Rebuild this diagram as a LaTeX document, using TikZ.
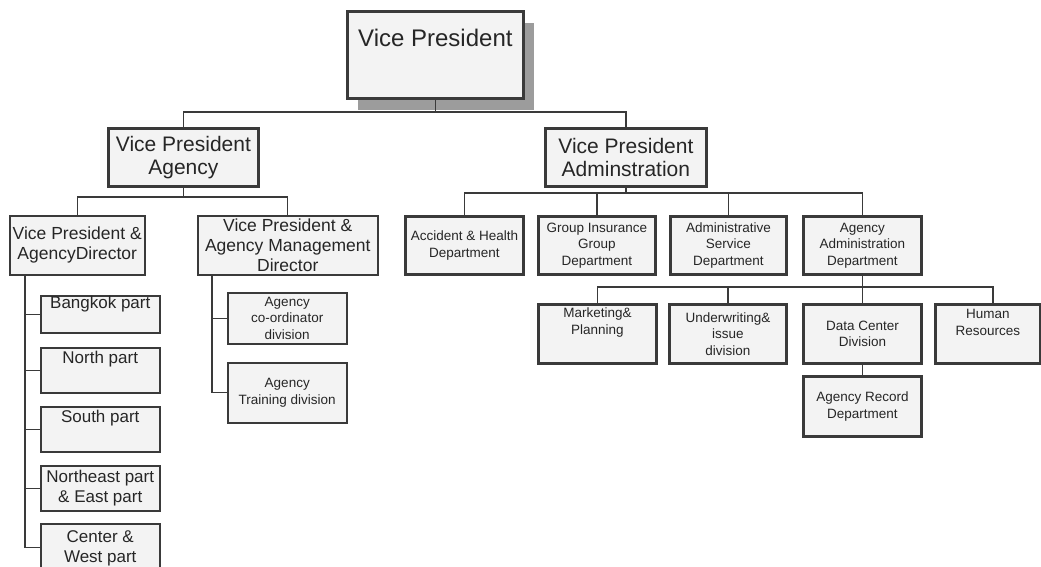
\documentclass[tikz,border=0pt]{standalone}
\usepackage{fontspec}
\setmainfont{Liberation Sans}
\definecolor{linec}{HTML}{3A3A3A}
\definecolor{boxfill}{HTML}{F3F3F3}
\definecolor{textc}{HTML}{262626}
\definecolor{shadowc}{HTML}{9C9C9C}

% box given by its corners (x1,y1)-(x2,y2); \bw and \bh hold its size
\newcommand\orgbox[7]{%
  \pgfmathsetmacro\bw{#5-#3}%
  \pgfmathsetmacro\bh{#6-#4}%
  \node[#1] (#2) at (#3,#4) {#7};}
% text centred in the box
\newcommand\midtxt[1]{\parbox[c][\bh pt][c]{\bw pt}{\centering #1\par}}
% text hung from the top of the box
\newcommand\toptxt[2]{\parbox[c][\bh pt][t]{\bw pt}{\centering\vspace*{#1pt}\strut #2\par}}

\begin{document}
\begin{tikzpicture}[x=1pt,y=-1pt,
  basebox/.style={draw=linec, fill=boxfill, text=textc, inner sep=0pt, anchor=north west},
  boldbox/.style={basebox, line width=2.8pt},
  plainbox/.style={basebox, line width=1.5pt},
  link/.style={draw=linec, line width=1.3pt},
  ftop/.style={font=\fontsize{24}{28}\selectfont},
  fvp/.style={font=\fontsize{21}{23}\selectfont},
  fmid/.style={font=\fontsize{17.5}{20}\selectfont},
  fpart/.style={font=\fontsize{17}{20}\selectfont},
  fsmall/.style={font=\fontsize{13.5}{16.5}\selectfont},
]
\fill[white] (0,0) rectangle (1041,566);
\useasboundingbox (0,0) rectangle (1041,566);
\clip (0,0) rectangle (1041,566);

% top of the chart, with its drop shadow
\fill[shadowc] (358,23) rectangle (534,110);
\orgbox{boldbox,ftop}{vp}{346}{10}{522}{97}{\toptxt{15}{Vice President}}

% second level
\orgbox{boldbox,fvp}{vpa}{107}{127}{257}{185}{\midtxt{Vice President\\Agency}}
\orgbox{boldbox,fvp}{vpad}{544}{127}{705}{185}{\midtxt{Vice President\\Adminstration}}

% agency branch
\orgbox{plainbox,fmid}{vpdir}{9}{215}{144}{274}{\midtxt{Vice President \&\\AgencyDirector}}
\orgbox{plainbox,fmid}{vpamd}{197}{215}{377}{274}{\midtxt{Vice President \&\\Agency Management\\Director}}

\orgbox{plainbox,fpart}{bkk}{40}{295}{159}{332}{\toptxt{-1}{Bangkok part}}
\orgbox{plainbox,fpart}{north}{40}{347}{159}{392}{\toptxt{2}{North part}}
\orgbox{plainbox,fpart}{south}{40}{406}{159}{451}{\toptxt{2}{South part}}
\orgbox{plainbox,fpart}{neast}{40}{465}{159}{510}{\toptxt{3}{Northeast part\\\& East part}}
\orgbox{plainbox,fpart}{cwest}{40}{523}{159}{571}{\toptxt{5}{Center \&\\West part}}

\orgbox{plainbox,fsmall}{coord}{227}{292}{346}{343}{\midtxt{Agency\\co-ordinator\\division}}
\orgbox{plainbox,fsmall}{train}{227}{362}{346}{422}{\midtxt{Agency\\Training division}}

% administration branch
\orgbox{boldbox,fsmall}{acc}{404}{215}{522}{273}{\midtxt{Accident \& Health\\Department}}
\orgbox{boldbox,fsmall}{grp}{537}{215}{654}{273}{\midtxt{Group Insurance\\Group\\Department}}
\orgbox{boldbox,fsmall}{adm}{669}{215}{785}{273}{\midtxt{Administrative\\Service\\Department}}
\orgbox{boldbox,fsmall}{aad}{802}{215}{920}{273}{\midtxt{Agency\\Administration\\Department}}

\orgbox{boldbox,fsmall}{mkt}{537}{303}{655}{362}{\toptxt{2}{Marketing\&\\Planning}}
\orgbox{boldbox,fsmall}{und}{668}{303}{785}{362}{\midtxt{Underwriting\&\\issue\\division}}
\orgbox{boldbox,fsmall}{dcd}{802}{303}{920}{362}{\midtxt{Data Center\\Division}}
\orgbox{boldbox,fsmall}{hr}{934}{303}{1039}{362}{\toptxt{3}{Human\\Resources}}
\orgbox{boldbox,fsmall}{arec}{802}{375}{920}{435}{\midtxt{Agency Record\\Department}}

% connectors: top level
\draw[link] (vpa.north) -- ++(0,-15) coordinate (bus1) -| (vpad.north);
\draw[link] (vp.south) -- (vp.south |- bus1);

% connectors: agency
\draw[link] (vpdir.north) -- ++(0,-18) coordinate (bus2) -| (vpamd.north);
\draw[link] (vpa.south) -- (vpa.south |- bus2);
\coordinate (trunkA) at ([xshift=16pt]vpdir.south west);
\foreach \n in {bkk,north,south,neast,cwest}
  \draw[link] (trunkA) |- (\n.west);
\coordinate (trunkB) at ([xshift=15pt]vpamd.south west);
\foreach \n in {coord,train}
  \draw[link] (trunkB) |- (\n.west);

% connectors: administration
\draw[link] (acc.north) -- ++(0,-22) coordinate (bus3) -| (aad.north);
\draw[link] (vpad.south) -- (vpad.south |- bus3);
\foreach \n in {grp,adm}
  \draw[link] (\n.north) -- (\n.north |- bus3);
\draw[link] (mkt.north) -- ++(0,-16) coordinate (bus4) -| ([xshift=5pt]hr.north);
\foreach \n in {und}
  \draw[link] (\n.north) -- (\n.north |- bus4);
\draw[link] (aad.south) -- (dcd.north);
\draw[link] (dcd.south) -- (arec.north);
\end{tikzpicture}
\end{document}
